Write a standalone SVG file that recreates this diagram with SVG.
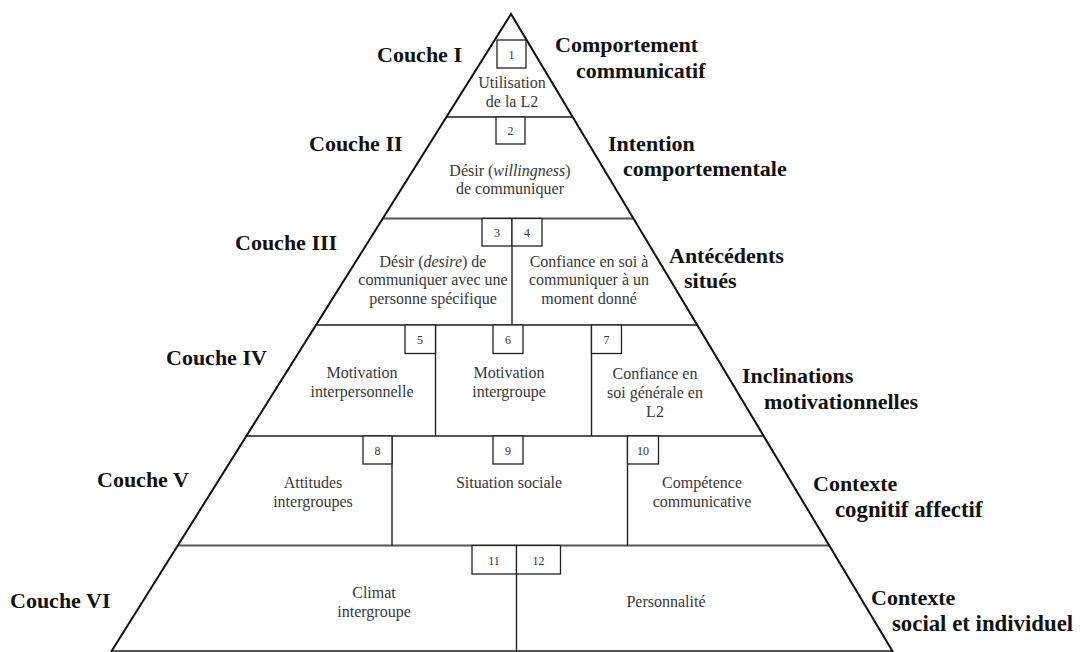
<svg xmlns="http://www.w3.org/2000/svg" width="1082" height="652" viewBox="0 0 1082 652">
<style>
.lbl{font-family:"Liberation Serif",serif;font-weight:bold;font-size:22px;fill:#111}
.lbl2{font-size:22.8px}
.txt{font-family:"Liberation Serif",serif;font-size:16px;fill:#383838;text-anchor:middle}
.num{font-family:"Liberation Serif",serif;font-size:12px;fill:#333;text-anchor:middle}
.box{fill:#fff;stroke:#222;stroke-width:1.3}
.hl{stroke:#555;stroke-width:2}
.vl{stroke:#222;stroke-width:1.4}
.edge{fill:none;stroke:#111;stroke-width:2}
</style>
<rect width="1082" height="652" fill="#fff"/>
<g id="connectors">
<line class="hl" x1="446.4" y1="117" x2="572.7" y2="117"/>
<line class="hl" x1="382.8" y1="218.5" x2="633.5" y2="218.5"/>
<line class="hl" x1="316" y1="325" x2="697.3" y2="325"/>
<line class="hl" x1="246.4" y1="436" x2="763.8" y2="436"/>
<line class="hl" x1="177.7" y1="545.5" x2="829.4" y2="545.5"/>
<line class="hl" x1="111.6" y1="651" x2="892.4" y2="651"/>
<line class="vl" x1="512" y1="218.5" x2="512" y2="325"/>
<line class="vl" x1="435.5" y1="325" x2="435.5" y2="436"/>
<line class="vl" x1="591.5" y1="325" x2="591.5" y2="436"/>
<line class="vl" x1="392" y1="436" x2="392" y2="545.5"/>
<line class="vl" x1="627.5" y1="436" x2="627.5" y2="545.5"/>
<line class="vl" x1="516.5" y1="545.5" x2="516.5" y2="652"/>
<polyline class="edge" points="111,652 511,14 893,652"/>
</g>
<g id="n1">
<rect class="box" x="497" y="40" width="29" height="28"/>
<text class="num" x="511.5" y="58.5">1</text>
<text class="txt" x="512" y="88">Utilisation</text>
<text class="txt" x="512" y="107">de la L2</text>
</g>
<g id="n2">
<rect class="box" x="496" y="117" width="29" height="27"/>
<text class="num" x="510.5" y="135">2</text>
<text class="txt" x="510" y="176">Désir (<tspan font-style="italic">willingness</tspan>)</text>
<text class="txt" x="510" y="194">de communiquer</text>
</g>
<g id="n3">
<rect class="box" x="482" y="218.5" width="30" height="27.5"/>
<text class="num" x="497" y="236.5">3</text>
<text class="txt" x="433" y="267">Désir (<tspan font-style="italic">desire</tspan>) de</text>
<text class="txt" x="433" y="285">communiquer avec une</text>
<text class="txt" x="433" y="304">personne spécifique</text>
</g>
<g id="n4">
<rect class="box" x="512" y="218.5" width="30" height="27.5"/>
<text class="num" x="527" y="236.5">4</text>
<text class="txt" x="589" y="267">Confiance en soi à</text>
<text class="txt" x="589" y="285">communiquer à un</text>
<text class="txt" x="589" y="304">moment donné</text>
</g>
<g id="n5">
<rect class="box" x="405" y="325" width="30.5" height="28.5"/>
<text class="num" x="420" y="344">5</text>
<text class="txt" x="362" y="378">Motivation</text>
<text class="txt" x="362" y="397">interpersonnelle</text>
</g>
<g id="n6">
<rect class="box" x="493" y="325" width="30" height="28.5"/>
<text class="num" x="508" y="344">6</text>
<text class="txt" x="509" y="378">Motivation</text>
<text class="txt" x="509" y="397">intergroupe</text>
</g>
<g id="n7">
<rect class="box" x="591.5" y="325" width="30" height="28.5"/>
<text class="num" x="606.5" y="344">7</text>
<text class="txt" x="655" y="379">Confiance en</text>
<text class="txt" x="655" y="398">soi générale en</text>
<text class="txt" x="655" y="417">L2</text>
</g>
<g id="n8">
<rect class="box" x="363" y="436" width="29" height="28"/>
<text class="num" x="377.5" y="455">8</text>
<text class="txt" x="313" y="488">Attitudes</text>
<text class="txt" x="313" y="507">intergroupes</text>
</g>
<g id="n9">
<rect class="box" x="493" y="436" width="30" height="28"/>
<text class="num" x="508" y="455">9</text>
<text class="txt" x="509" y="488">Situation sociale</text>
</g>
<g id="n10">
<rect class="box" x="627.5" y="436" width="31" height="28"/>
<text class="num" x="643" y="455">10</text>
<text class="txt" x="702" y="488">Compétence</text>
<text class="txt" x="702" y="507">communicative</text>
</g>
<g id="n11">
<rect class="box" x="472" y="545.5" width="44.5" height="28.5"/>
<text class="num" x="494" y="564.5">11</text>
<text class="txt" x="374" y="598">Climat</text>
<text class="txt" x="374" y="617">intergroupe</text>
</g>
<g id="n12">
<rect class="box" x="516.5" y="545.5" width="44" height="28.5"/>
<text class="num" x="538.5" y="564.5">12</text>
<text class="txt" x="666" y="607">Personnalité</text>
</g>
<g id="labels-left">
<text class="lbl" x="377" y="62">Couche I</text>
<text class="lbl" x="309" y="151">Couche II</text>
<text class="lbl" x="235" y="250">Couche III</text>
<text class="lbl" x="166" y="365">Couche IV</text>
<text class="lbl" x="97" y="487">Couche V</text>
<text class="lbl" x="10" y="608">Couche VI</text>
</g>
<g id="labels-right">
<text class="lbl" x="555" y="52">Comportement</text>
<text class="lbl" x="576" y="78">communicatif</text>
<text class="lbl" x="608" y="151">Intention</text>
<text class="lbl" x="623" y="176">comportementale</text>
<text class="lbl" x="669" y="263">Antécédents</text>
<text class="lbl" x="684" y="288">situés</text>
<text class="lbl" x="742" y="383">Inclinations</text>
<text class="lbl" x="764" y="409">motivationnelles</text>
<text class="lbl" x="813" y="491">Contexte</text>
<text class="lbl lbl2" x="835" y="517">cognitif affectif</text>
<text class="lbl" x="871" y="605">Contexte</text>
<text class="lbl lbl2" x="892" y="631">social et individuel</text>
</g>
</svg>
